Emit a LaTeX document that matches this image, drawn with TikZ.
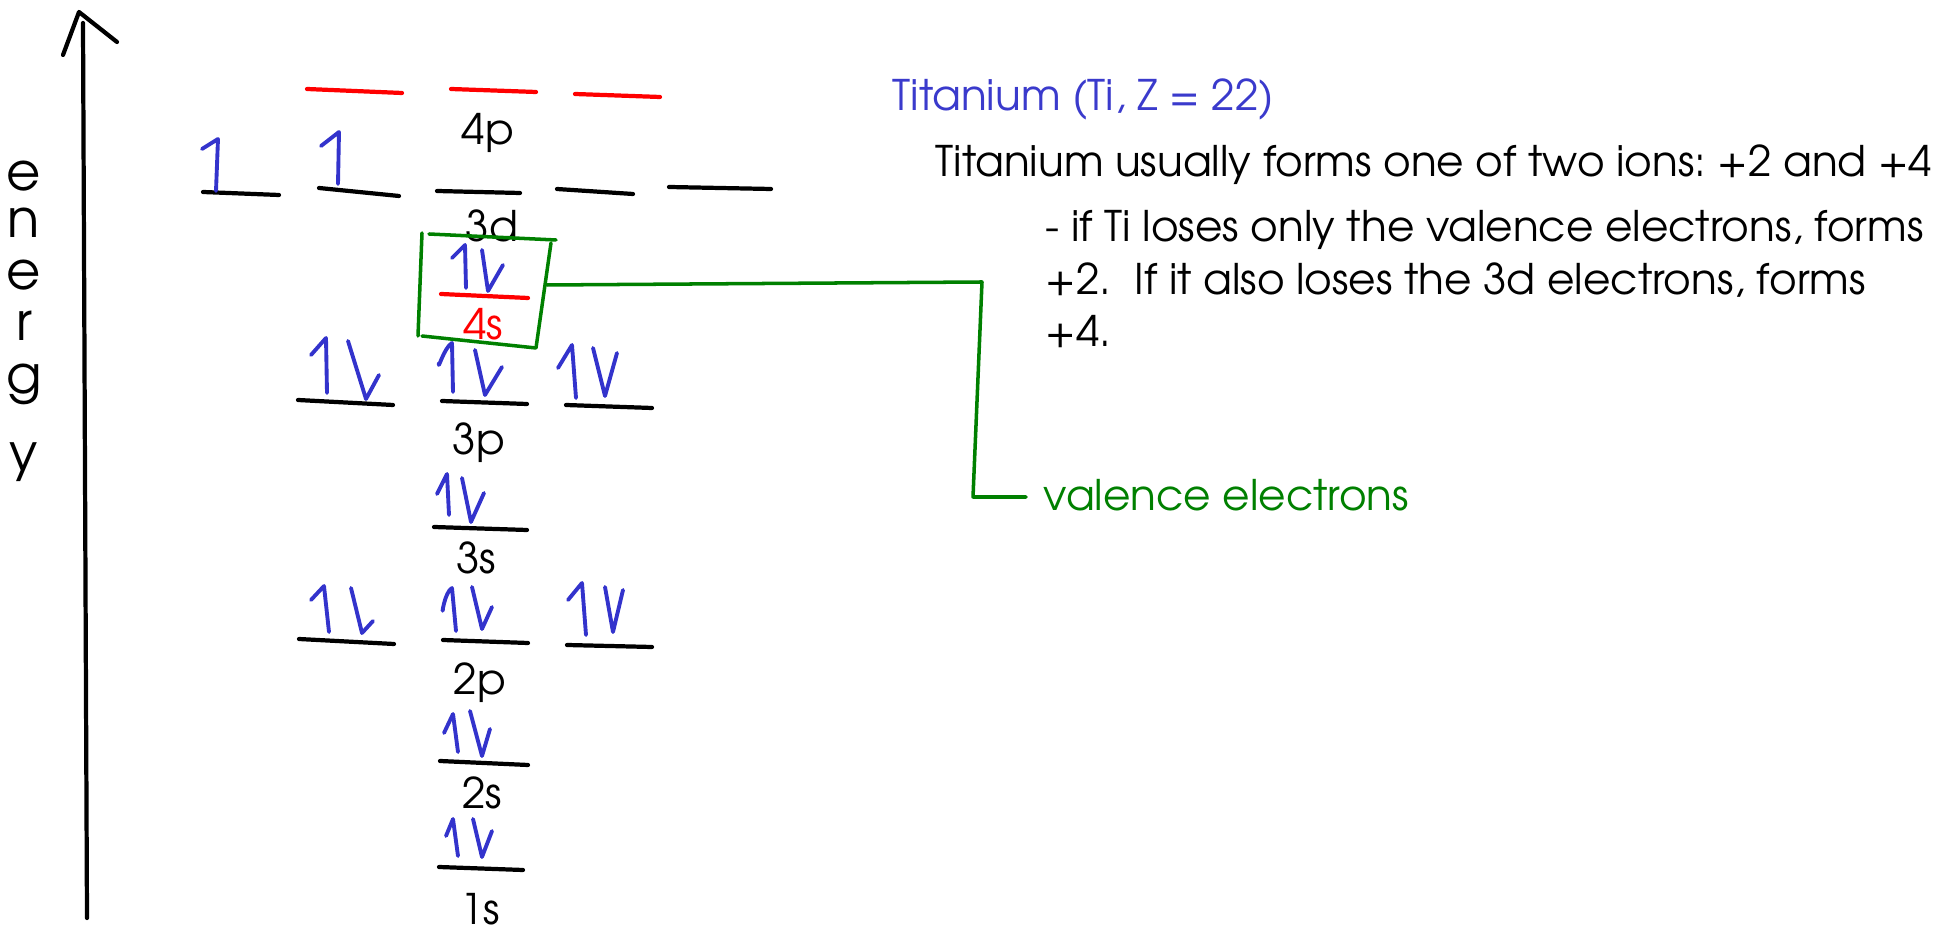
\documentclass[tikz,border=0pt]{standalone}
\usepackage{fontspec}
\setmainfont{TeX Gyre Adventor}
\frenchspacing
\definecolor{hblue}{RGB}{51,51,204}
\definecolor{tblue}{RGB}{58,58,204}
\definecolor{vgreen}{RGB}{0,128,0}
\tikzset{
  orb/.style={draw=black, line width=1.2pt, line cap=round},
  orbred/.style={draw=red, line width=1.2pt, line cap=round},
  spin/.style={draw=hblue, line width=1.1pt, line cap=round, line join=round},
  lbl/.style={anchor=base, inner sep=0pt, font=\fontsize{12}{14}\selectfont},
  txt/.style={anchor=base west, inner sep=0pt, font=\fontsize{12}{14}\selectfont},
  hand/.style={anchor=north, inner sep=0pt, align=center, font=\fontsize{15}{14.2}\selectfont},
  frame/.style={draw=vgreen, line width=1pt, line cap=round, line join=round},
}
\begin{document}
\begin{tikzpicture}[x=0.01cm, y=-0.01cm]
\useasboundingbox (0,0) rectangle (1942,928);

% energy axis
\coordinate (axbot) at (87,918);
\coordinate (axtop) at (83,23);
\coordinate (tip) at (79,12);
\draw[orb] (axbot) -- (axtop);
\draw[orb, line join=round] (63,55) -- (tip) -- (117,42);
\node[hand] (energy) at (24,160) {e\\[-0.85pt]n\\[0.57pt]e\\[0.28pt]r\\[1.14pt]g\\[7.9pt]y};

% 4p
\draw[orbred] (307,89) -- (402,93);
\draw[orbred] (451,89) -- (536,92);
\draw[orbred] (575,94) -- (660,97);
\node[lbl] (l4p) at (488,145) {4p};

% 3d
\draw[orb] (203,192) -- (279,195);
\draw[orb] (319,188) -- (399,196);
\draw[orb] (437,191) -- (520,193);
\draw[orb] (557,189) -- (633,194);
\draw[orb] (669,187) -- (771,189);
\draw[spin] (202,149) -- (218,139) -- (216,191);
\draw[spin] (321,146) -- (339,132) -- (338,184);
\node[lbl] (l3d) at (492,242) {3d};

% 4s
\draw[orbred] (441,294) -- (528,298);
\draw[spin] (452,258) -- (465,245) -- (466,288);
\draw[spin] (482,250) -- (488,291) -- (503,265);
\node[lbl, text=red] (l4s) at (483,340) {4s};

% green box and connector
\draw[frame] (422,233) -- (418,336);
\draw[frame] (429,234) -- (556,240);
\draw[frame] (551,243) -- (536,348) -- (422,336);
\coordinate (boxR) at (547,285);
\node[txt, text=vgreen] (val) at (1043,511) {valence electrons};
\coordinate (c1) at (982,282);
\coordinate (c2) at (973,497);
\coordinate (c3) at (1026,497);
\draw[frame] (boxR) -- (c1) -- (c2) -- (c3);

% 3p
\draw[orb] (298,400) -- (393,405);
\draw[orb] (442,401) -- (527,404);
\draw[orb] (566,405) -- (652,408);
\draw[spin] (311,355) -- (326,338) -- (327,393);
\draw[spin] (348,341) -- (366,399) -- (379,375);
\draw[spin] (439,363) to[out=-100,in=-150] (452,343) -- (453,392);
\draw[spin] (475,350) -- (485,395) -- (502,367);
\draw[spin] (558,368) -- (572,345) -- (576,398);
\draw[spin] (593,348) -- (605,396) -- (617,353);
\node[lbl] (l3p) at (479,455) {3p};

% 3s
\draw[orb] (434,527) -- (527,530);
\draw[spin] (437,494) -- (447,474) -- (449,515);
\draw[spin] (462,478) -- (471,522) -- (484,493);
\node[lbl] (l3s) at (476,574) {3s};

% 2p
\draw[orb] (299,639) -- (394,644);
\draw[orb] (443,640) -- (528,643);
\draw[orb] (567,645) -- (652,647);
\draw[spin] (311,600) -- (324,586) -- (329,632);
\draw[spin] (351,588) -- (362,633) -- (373,621);
\draw[spin] (443,609) to[out=-100,in=-150] (452,588) -- (456,631);
\draw[spin] (472,587) -- (482,629) -- (492,607);
\draw[spin] (568,600) -- (582,583) -- (586,635);
\draw[spin] (605,587) -- (613,632) -- (623,590);
\node[lbl] (l2p) at (480,695) {2p};

% 2s
\draw[orb] (440,761) -- (528,765);
\draw[spin] (444,733) -- (453,714) -- (458,752);
\draw[spin] (470,711) -- (482,756) -- (490,729);
\node[lbl] (l2s) at (482,808) {2s};

% 1s
\draw[orb] (439,867) -- (523,870);
\draw[spin] (446,836) -- (453,819) -- (458,856);
\draw[spin] (473,819) -- (482,857) -- (492,831);
\node[lbl] (l1s) at (480,925) {1s};

% right text
\node[txt, text=tblue] (title) at (892,111) {Titanium (Ti, Z = 22)};
\node[txt] (t1) at (935,177) {Titanium usually forms one of two ions: +2 and +4};
\node[txt] (t2) at (1045,242) {- if Ti loses only the valence electrons, forms};
\node[txt] (t3) at (1045,295) {+2.\ \ If it also loses the 3d electrons, forms};
\node[txt] (t4) at (1045,347) {+4.};
\end{tikzpicture}
\end{document}
